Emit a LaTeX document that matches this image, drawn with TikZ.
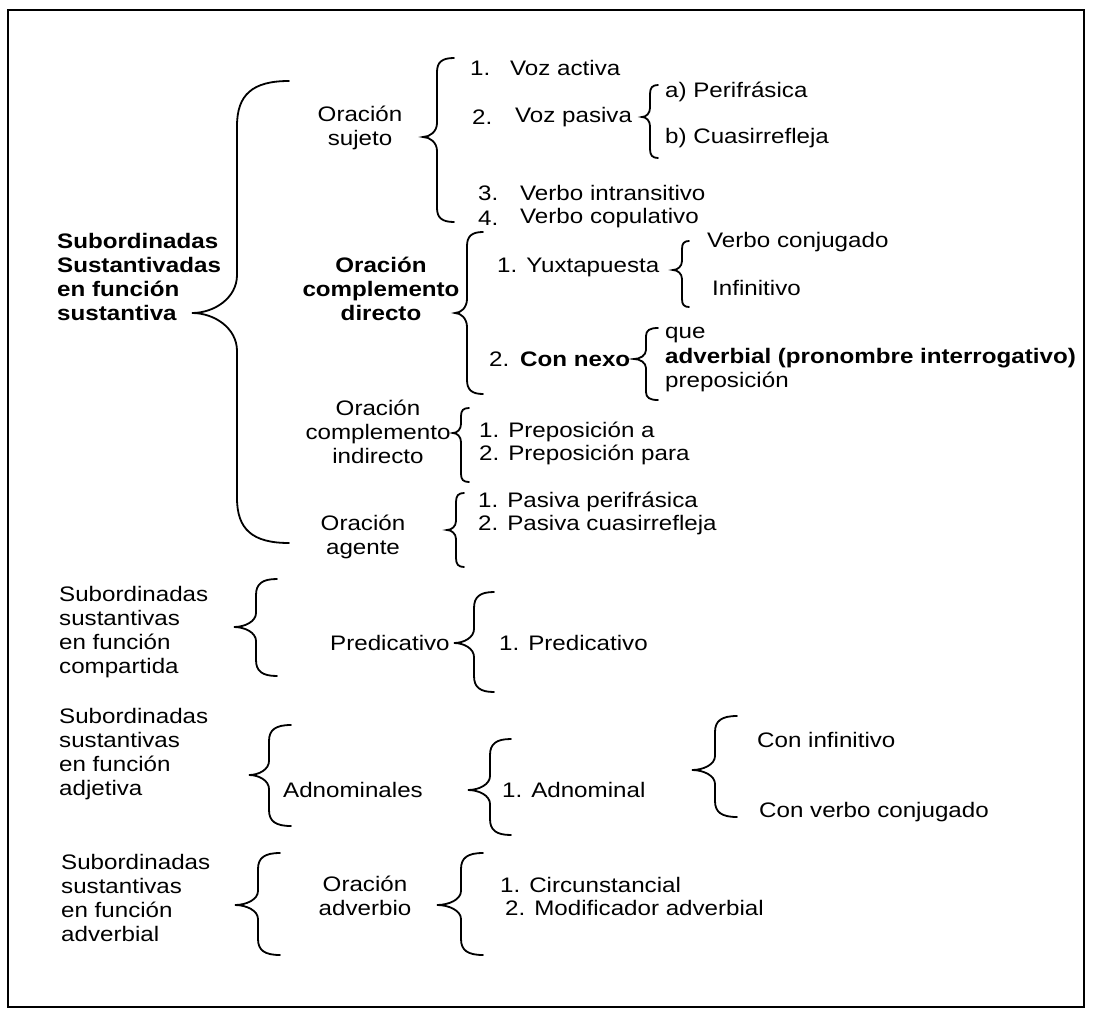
\documentclass[tikz,border=0pt]{standalone}
\usepackage{fontspec}
\setmainfont{Liberation Sans}[FakeStretch=1.15]
\newcommand\cbr[8]{% xv ytop ybot ytip hookw hookh tipw tiph
  \draw[brc] ({#1+#5},{#2}) .. controls ({#1+0.3*#5},{#2}) and ({#1},{#2+0.3*#6}) .. ({#1},{#2+#6})
    -- ({#1},{#4-#8}) .. controls ({#1},{#4-0.4*#8}) and ({#1-0.5*#7},{#4}) .. ({#1-#7},{#4})
    .. controls ({#1-0.5*#7},{#4}) and ({#1},{#4+0.4*#8}) .. ({#1},{#4+#8})
    -- ({#1},{#3-#6}) .. controls ({#1},{#3-0.3*#6}) and ({#1+0.3*#5},{#3}) .. ({#1+#5},{#3});}
\begin{document}
\begin{tikzpicture}[x=1pt,y=-1pt,
  brc/.style={line width=1.8pt,line cap=round},
  txt/.style={font=\fontsize{21}{24}\selectfont,inner sep=0pt,anchor=west},
  ctr/.style={font=\fontsize{21}{24}\selectfont,inner sep=0pt,align=center},
  bld/.style={font=\fontsize{21}{24}\selectfont\bfseries,inner sep=0pt}]
\useasboundingbox (0,0) rectangle (1094,1011);
\draw[line width=1.6pt] (8,10) rectangle (1084,1007);
% group 1
\node[bld,anchor=west,align=left] (g1) at (57,277) {Subordinadas\\Sustantivadas\\en función\\sustantiva};
\cbr{237}{81}{543}{313}{52}{45}{45}{38}
\node[ctr] (os) at (360,128) {Oración\\sujeto};
\cbr{437}{58}{222}{137}{17}{14}{14}{14}
\node[txt] (s1n) at (470,68) {1.};
\node[txt] (s1) at (510,68) {Voz activa};
\node[txt] (s2n) at (472,117) {2.};
\node[txt] (s2) at (515,117) {Voz pasiva};
\cbr{650}{85}{158}{117}{8}{9}{8}{9}
\node[txt] (pa) at (665,92) {a) Perifrásica};
\node[txt] (pb) at (665,138) {b) Cuasirrefleja};
\node[txt] (s3n) at (478,193) {3.};
\node[txt] (s3) at (520,193) {Verbo intransitivo};
\node[txt] (s4n) at (478,218) {4.};
\node[txt] (s4) at (520,218) {Verbo copulativo};
% OCD
\node[bld,align=center] (ocd) at (381,289) {Oración\\complemento\\directo};
\cbr{467}{232}{394}{313}{16}{14}{12}{14}
\node[txt] (y1) at (497,267) {1. Yuxtapuesta};
\cbr{682}{241}{307}{270}{7}{8}{9}{9}
\node[txt] (vc) at (707,242) {Verbo conjugado};
\node[txt] (inf) at (712,288) {Infinitivo};
\node[txt] (n2n) at (489,359) {2.};
\node[bld,anchor=west] (n2) at (520,359) {Con nexo};
\cbr{646}{328}{400}{359}{12}{8}{12}{9}
\node[txt] (que) at (665,335) {que};
\node[bld,anchor=west] (adv) at (665,358) {adverbial (pronombre interrogativo)};
\node[txt] (prep) at (665,382) {preposición};
% OCI
\node[ctr] (oci) at (378,432) {Oración\\complemento\\indirecto};
\cbr{461}{408}{482}{433}{8}{8}{8}{9}
\node[txt] (pr1) at (479,432) {1. Preposición a};
\node[txt] (pr2) at (479,455) {2. Preposición para};
% agente
\node[ctr] (oag) at (363,537) {Oración\\agente};
\cbr{456}{493}{567}{530}{8}{9}{9}{9}
\node[txt] (ag1) at (478,502) {1. Pasiva perifrásica};
\node[txt] (ag2) at (478,525) {2. Pasiva cuasirrefleja};
% compartida
\node[txt,align=left] (g2) at (59,632) {Subordinadas\\sustantivas\\en función\\compartida};
\cbr{256}{579}{676}{627}{21}{16}{22}{14}
\node[txt] (pred) at (330,643) {Predicativo};
\cbr{474}{592}{692}{643}{20}{16}{20}{14}
\node[txt] (pred1) at (499,643) {1. Predicativo};
% adjetiva
\node[txt,align=left] (g3) at (59,754) {Subordinadas\\sustantivas\\en función\\adjetiva};
\cbr{269}{725}{826}{775}{22}{16}{20}{14}
\node[txt] (adn) at (283,790) {Adnominales};
\cbr{490}{739}{835}{790}{21}{16}{22}{14}
\node[txt] (adn1) at (502,790) {1. Adnominal};
\cbr{715}{716}{817}{770}{22}{16}{23}{14}
\node[txt] (cinf) at (757,740) {Con infinitivo};
\node[txt] (cvc) at (759,812) {Con verbo conjugado};
% adverbial
\node[txt,align=left] (g4) at (61,898) {Subordinadas\\sustantivas\\en función\\adverbial};
\cbr{258}{853}{955}{905}{22}{16}{23}{14}
\node[ctr] (oadv) at (365,896) {Oración\\adverbio};
\cbr{461}{853}{955}{905}{22}{16}{24}{14}
\node[txt] (c1) at (500,885) {1. Circunstancial};
\node[txt] (c2) at (505,908) {2. Modificador adverbial};
\end{tikzpicture}
\end{document}
